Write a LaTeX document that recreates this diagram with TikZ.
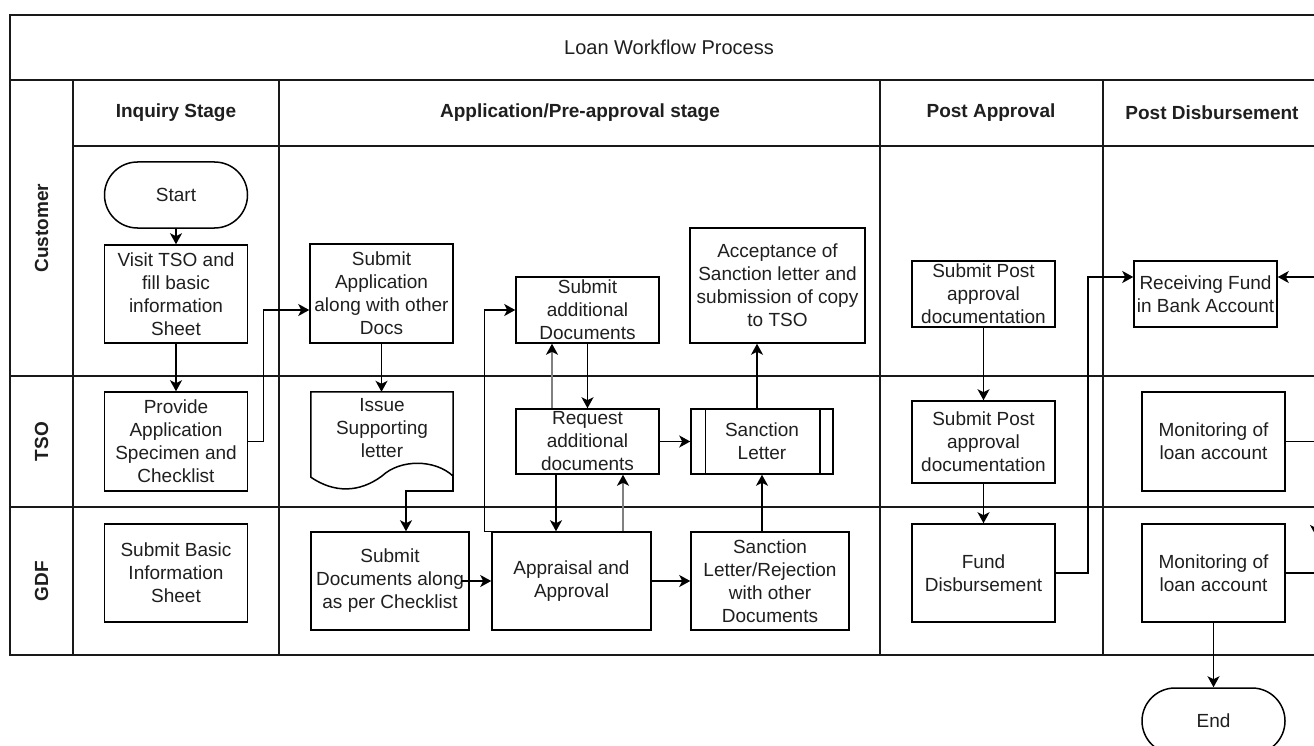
\documentclass[tikz,border=0pt]{standalone}
\usepackage{fontspec}
\setmainfont{Liberation Sans}
\usetikzlibrary{arrows.meta}
\begin{document}
\begin{tikzpicture}[x=1pt,y=-1pt,
  every node/.style={font=\fontsize{19}{23}\selectfont, align=center, inner sep=0pt, text=black!88},
  box/.style={draw=black, line width=1.5pt, minimum width=143pt, minimum height=98pt},
  hdr/.style={font=\fontsize{19}{23}\selectfont\bfseries},
  frame/.style={line width=1.5pt, draw=black!90},
  arr/.style={line width=1.5pt, -{Stealth[length=11pt,width=12pt,inset=3pt]}},
  garr/.style={line width=2.2pt, draw=black!50, -{Stealth[length=11pt,width=12pt,inset=3pt,color=black]}},
  plain/.style={line width=1.5pt}
]
\useasboundingbox (0,0) rectangle (1314,746);
\clip (0,0) rectangle (1314,746);
\fill[white] (0,0) rectangle (1314,746);

% frame and lanes
\draw[frame] (1340,15) -- (10,15) -- (10,655) -- (1340,655);
\draw[frame] (10,80) -- (1340,80);
\draw[frame] (73,146) -- (1340,146);
\draw[frame] (10,376) -- (1340,376);
\draw[frame] (10,507) -- (1340,507);
\foreach \xx in {73,279,880,1103} { \draw[frame] (\xx,80) -- (\xx,655); }

% title and headers
\node[font=\fontsize{20}{24}\selectfont] (title) at (669,47) {Loan Workflow Process};
\node[hdr] (h1) at (176,113) {Inquiry Stage};
\node[hdr] (h2) at (580,113) {Application/Pre-approval stage};
\node[hdr] (h3) at (991,113) {Post Approval};
\node[hdr] (h4) at (1212,113) {Post Disbursement};
\node[hdr, rotate=90] (l1) at (41.5,228) {Customer};
\node[hdr, rotate=90] (l2) at (41.5,441.5) {TSO};
\node[hdr, rotate=90] (l3) at (41.5,581) {GDF};

% inquiry stage
\node[box, minimum height=66pt, rounded corners=33pt] (start) at (176,195) {Start};
\node[box] (visit) at (176,294) {Visit TSO and\\fill basic\\information\\Sheet};
\node[box, minimum height=99pt] (provide) at (176,441.5) {Provide\\Application\\Specimen and\\Checklist};
\node[box] (basic) at (176,573) {Submit Basic\\Information\\Sheet};

% application stage
\node[box, minimum height=99pt] (subapp) at (381.5,293.5) {Submit\\Application\\along with other\\Docs};
\node[minimum width=142pt, minimum height=99pt] (issue) at (382,441.5) {};
\node (issuetxt) at (382,428) {Issue\\Supporting\\letter};
\draw[plain] ([yshift=15pt]issue.south east) -- (issue.north east) -- (issue.north west) -- ([yshift=14pt]issue.south west)
  .. controls (334,493) and (359,493) .. (382,476)
  .. controls (400,459) and (435,459) .. ([yshift=15pt]issue.south east);
\node[box, minimum width=158pt] (subdocs) at (390,581) {Submit\\Documents along\\as per Checklist};
\node[box, minimum width=159pt] (appr) at (571.5,581) {Appraisal and\\Approval};
\node[box, minimum width=158pt] (rej) at (770,581) {Sanction\\Letter/Rejection\\with other\\Documents};
\node[box, minimum height=65pt] (req) at (587.5,441.5) {Request\\additional\\documents};
\node[box, minimum width=142pt, minimum height=65pt] (sanc) at (762,441.5) {Sanction\\Letter};
\draw[plain] ([xshift=15pt]sanc.north west) -- ([xshift=15pt]sanc.south west);
\draw[plain] ([xshift=-14pt]sanc.north east) -- ([xshift=-14pt]sanc.south east);
\node[box, minimum height=66pt] (subadd) at (587.5,310) {Submit\\additional\\Documents};
\node[box, minimum width=175pt, minimum height=115pt] (accept) at (777.5,285.5) {Acceptance of\\Sanction letter and\\submission of copy\\to TSO};

% post approval
\node[box, minimum height=66pt] (post1) at (983.5,294) {Submit Post\\approval\\documentation};
\node[box, minimum height=82pt] (post2) at (983.5,442) {Submit Post\\approval\\documentation};
\node[box] (fund) at (983.5,573) {Fund\\Disbursement};

% post disbursement
\node[box, minimum height=66pt] (recv) at (1205.5,294) {Receiving Fund\\in Bank Account};
\node[box, minimum height=99pt] (montso) at (1213.5,441.5) {Monitoring of\\loan account};
\node[box] (mongdf) at (1213.5,573) {Monitoring of\\loan account};
\node[box, minimum height=66pt, rounded corners=33pt] (end) at (1213.5,721) {End};

% connectors
\draw[arr] (start) -- (visit);
\draw[arr] (visit) -- (provide);
\draw[arr] (provide.east) -- ++(15,0) |- ([yshift=-16.5pt]subapp.west);
\draw[arr] (subapp.south) -- (subapp.south |- issue.north);
\draw[arr] ([yshift=15pt]issue.south east) -- (issue.south east) -| ([xshift=16pt]subdocs.north);
\draw[arr] ([xshift=-9pt]subdocs.east) -- (appr.west);
\draw[garr] ([xshift=51.5pt]appr.north) -- ([xshift=51.5pt]appr.north |- req.south);
\draw[arr] ([xshift=-31.5pt]req.south) -- ([xshift=-31.5pt]req.south |- appr.north);
\draw[arr] (appr.north west) -- ++(-7,0) |- (subadd.west);
\draw[arr] (subadd.south) -- (req.north);
\draw[garr] ([xshift=-35.5pt]req.north) -- ([xshift=-35.5pt]req.north |- subadd.south);
\draw[arr] (req.east) -- (sanc.west);
\draw[arr] (appr.east) -- (rej.west);
\draw[arr] ([xshift=-8pt]rej.north) -- ([xshift=-8pt]rej.north |- sanc.south);
\draw[arr] ([xshift=-5pt]sanc.north) -- ([xshift=-5pt]sanc.north |- accept.south);
\draw[arr] (post1) -- (post2);
\draw[arr] (post2) -- (fund);
\draw[arr] (fund.east) -- ++(32,0) |- ([yshift=17pt]recv.west);
\coordinate (rin) at (1340,277);
\draw[arr] (rin) -- (rin -| recv.east);
\coordinate (mdown) at (1316,536);
\draw[arr] (montso.east) -| (mdown);
\coordinate (mout) at (1340,573);
\draw[plain] (mongdf.east) -- (mout);
\draw[arr] (mongdf) -- (end);
\end{tikzpicture}
\end{document}
